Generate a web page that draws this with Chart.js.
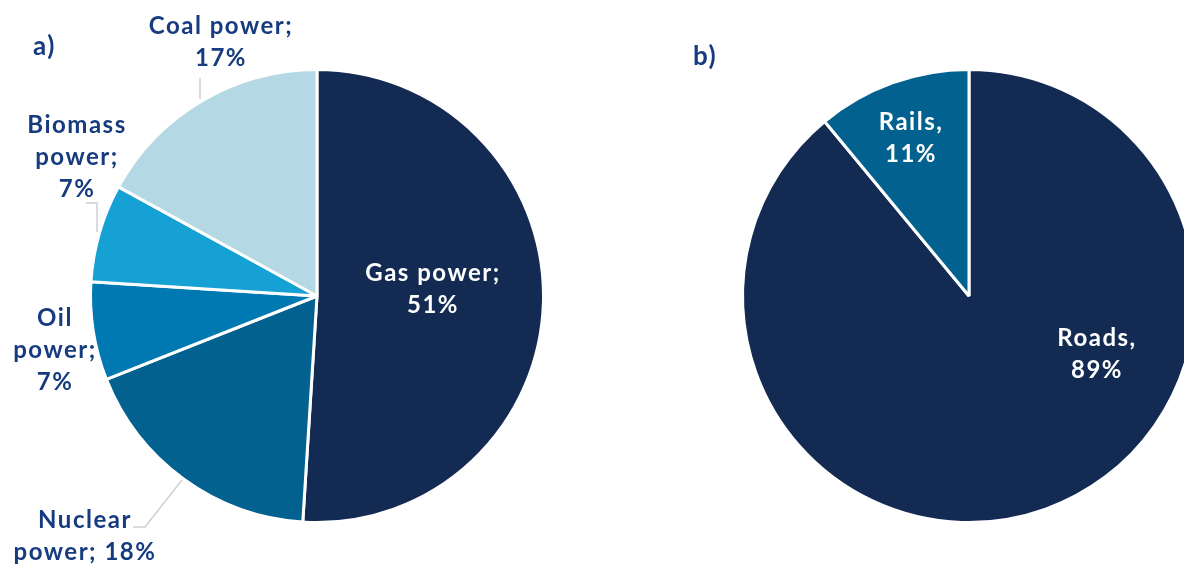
<!DOCTYPE html>
<html>
<head>
<meta charset="utf-8">
<script src="https://cdn.jsdelivr.net/npm/chart.js@4"></script>
<style>
  html, body { margin: 0; padding: 0; background: #fff; overflow: hidden; }
  body { width: 1184px; height: 564px; position: relative; }
  #wrapA { position: absolute; left: 0; top: 0; width: 592px; height: 564px; }
  #wrapB { position: absolute; left: 592px; top: 0; width: 700px; height: 564px; }
</style>
</head>
<body>
<div id="wrapA"><canvas id="chartA"></canvas></div>
<div id="wrapB"><canvas id="chartB"></canvas></div>
<script>
// a) electricity sources
const energyLabels = ["Gas power", "Nuclear power", "Oil power", "Biomass power", "Coal power"];
const energyValues = [51, 18, 7, 7, 17];
const energyColors = ["#132a52", "#03618f", "#0079b2", "#15a1d3", "#b5d9e4"];

// b) transport
const transportLabels = ["Roads", "Rails"];
const transportValues = [89, 11];
const transportColors = ["#132a52", "#03618f"];

const textBlue = "#163b7e";
const labelFont = "bold 24px Lato, 'Open Sans', sans-serif";

// label text lines, offset from pie centre, colour
const energyText = [
  { lines: ["Gas power;", "51%"], dx: 116, dy: -7, color: "#fff" },
  { lines: ["Nuclear", "power; 18%"], dx: -232, dy: 240, color: textBlue },
  { lines: ["Oil", "power;", "7%"], dx: -262, dy: 54, color: textBlue },
  { lines: ["Biomass", "power;", "7%"], dx: -240, dy: -139, color: textBlue },
  { lines: ["Coal power;", "17%"], dx: -96, dy: -254, color: textBlue }
];
const energyLeaders = [
  null,
  [[-184, 231], [-172, 231], [-135, 184]],
  null,
  [[-231, -93], [-220, -93], [-220, -64]],
  [[-117, -218], [-117, -197]]
];
const transportText = [
  { lines: ["Roads,", "89%"], dx: 128, dy: 58, color: "#fff" },
  { lines: ["Rails,", "11%"], dx: -58, dy: -158, color: "#fff" }
];

function labelPlugin(texts, leaders, panel, panelPos) {
  return {
    id: "sliceLabels",
    afterDraw(chart) {
      const ctx = chart.ctx;
      const arc = chart.getDatasetMeta(0).data[0];
      const cx = arc.x, cy = arc.y;
      ctx.save();
      if (leaders) {
        ctx.strokeStyle = "#cfcfcf";
        ctx.lineWidth = 1.5;
        leaders.forEach(pts => {
          if (!pts) return;
          ctx.beginPath();
          pts.forEach((p, i) => {
            if (i === 0) ctx.moveTo(cx + p[0], cy + p[1]);
            else ctx.lineTo(cx + p[0], cy + p[1]);
          });
          ctx.stroke();
        });
      }
      ctx.font = labelFont;
      ctx.letterSpacing = "1.5px";
      ctx.textAlign = "center";
      ctx.textBaseline = "middle";
      const lh = 32;
      texts.forEach(t => {
        ctx.fillStyle = t.color;
        const y0 = cy + t.dy - (t.lines.length - 1) * lh / 2;
        t.lines.forEach((ln, i) => ctx.fillText(ln, cx + t.dx, y0 + i * lh));
      });
      ctx.fillStyle = textBlue;
      ctx.font = "bold 26px Lato, 'Open Sans', sans-serif";
      ctx.textAlign = "left";
      ctx.fillText(panel, panelPos[0], panelPos[1]);
      ctx.restore();
    }
  };
}

function makePie(id, labels, values, colors, padding, plugin) {
  return new Chart(document.getElementById(id), {
    type: "pie",
    data: {
      labels: labels,
      datasets: [{
        data: values,
        backgroundColor: colors,
        borderColor: "#ffffff",
        borderWidth: 3
      }]
    },
    options: {
      responsive: true,
      maintainAspectRatio: false,
      animation: false,
      layout: { padding: padding },
      plugins: {
        legend: { display: false },
        tooltip: { enabled: false },
        title: { display: false }
      }
    },
    plugins: [plugin]
  });
}

makePie("chartA", energyLabels, energyValues, energyColors,
  { left: 89, right: 47, top: 68, bottom: 40 },
  labelPlugin(energyText, energyLeaders, "a)", [33, 47]));

makePie("chartB", transportLabels, transportValues, transportColors,
  { left: 149, right: 95, top: 68, bottom: 40 },
  labelPlugin(transportText, null, "b)", [101, 57]));
</script>
</body>
</html>
